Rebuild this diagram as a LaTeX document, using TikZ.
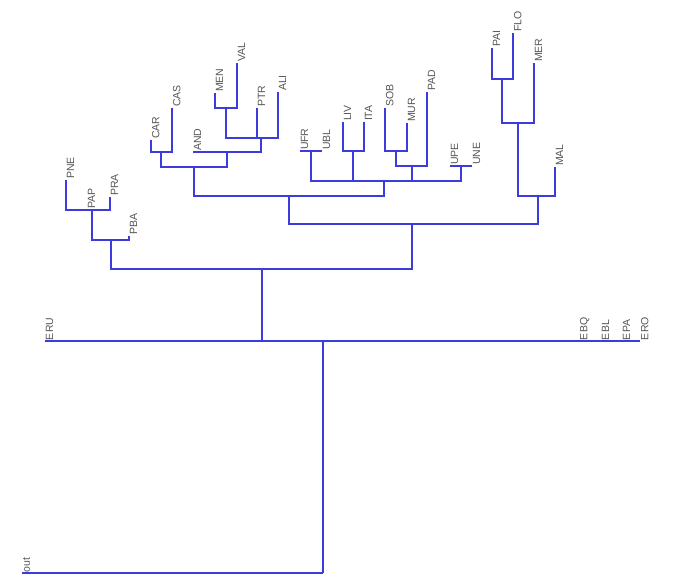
\documentclass[tikz,border=0pt]{standalone}
\usepackage{fontspec}
\setmainfont{Liberation Sans}
\definecolor{treeblue}{RGB}{60,60,220}
\definecolor{labgray}{RGB}{85,85,85}
\begin{document}
\begin{tikzpicture}[x=1pt,y=-1pt,
  edge/.style={draw=treeblue,line width=1.1pt},
  leaflab/.style={rotate=90,anchor=north west,inner sep=0.8pt,text=labgray,
    font=\fontsize{10.5}{12}\selectfont}]
\useasboundingbox (0,0) rectangle (688,585);
% internal nodes
\coordinate (root) at (323,573);
\coordinate (nE)   at (323,341);
\coordinate (nIn)  at (262,269);
\coordinate (nP)   at (111,240);
\coordinate (nP2)  at (92,210);
\coordinate (nM)   at (412,224);
\coordinate (nA)   at (289,196);
\coordinate (nC)   at (194,167);
\coordinate (nCC)  at (161,152);
\coordinate (nAN)  at (227,152);
\coordinate (nMV)  at (261,138);
\coordinate (nMe)  at (226,108);
\coordinate (nU)   at (384,181);
\coordinate (nUF)  at (311,151);
\coordinate (nLI)  at (353,151);
\coordinate (nSP)  at (412,166);
\coordinate (nSM)  at (396,151);
\coordinate (nUP)  at (461,166);
\coordinate (nF)   at (538,196);
\coordinate (nFM)  at (518,123);
\coordinate (nPF)  at (502,79);
% leaves
\foreach \n/\x/\y in {out/22/573,ERU/45/341,EBQ/579/341,EBL/601/341,EPA/622/341,ERO/640/341,
  PNE/66/180,PAP/87/210,PRA/110/197,PBA/129/236,
  CAR/151/140,CAS/172/108,AND/193/152,MEN/215/93,VAL/237/63,PTR/257/108,ALI/278/92,
  UFR/300/151,UBL/322/151,LIV/343/122,ITA/364/122,SOB/385/108,MUR/407/123,PAD/427/92,
  UPE/450/166,UNE/472/166,PAI/492/48,FLO/513/33,MER/534/63,MAL/555/167}{
  \coordinate (\n) at (\x,\y);
  \node[leaflab] (l\n) at (\n) {\n};
}
% edges
\foreach \p/\c in {root/out,root/nE,
  nE/ERU,nE/nIn,nE/EBQ,nE/EBL,nE/EPA,nE/ERO,
  nIn/nP,nIn/nM,
  nP/nP2,nP/PBA,nP2/PNE,nP2/PAP,nP2/PRA,
  nM/nA,nM/nF,
  nA/nC,nA/nU,
  nC/nCC,nC/nAN,nCC/CAR,nCC/CAS,
  nAN/AND,nAN/nMV,nMV/nMe,nMV/PTR,nMV/ALI,nMe/MEN,nMe/VAL,
  nU/nUF,nU/nLI,nU/nSP,nU/nUP,
  nUF/UFR,nUF/UBL,nLI/LIV,nLI/ITA,
  nSP/nSM,nSP/PAD,nSM/SOB,nSM/MUR,
  nUP/UPE,nUP/UNE,
  nF/nFM,nF/MAL,nFM/nPF,nFM/MER,nPF/PAI,nPF/FLO}{
  \draw[edge] (\p) -| (\c);
}
\end{tikzpicture}
\end{document}
